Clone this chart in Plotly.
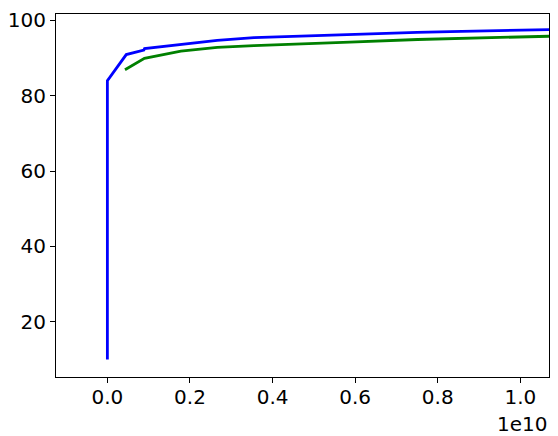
import plotly.graph_objs as go

# ---- data (x in raw units, shown as x 1e10)
blue_x = [0, 0, 0.0457e10, 0.0883e10, 0.0900e10, 0.178e10, 0.266e10, 0.355e10,
          0.443e10, 0.54e10, 0.62e10, 0.75e10, 0.83e10, 0.90e10, 1.0e10, 1.1e10]
blue_y = [10.0, 84.0, 90.9, 92.1, 92.5, 93.65, 94.7, 95.4,
          95.7, 96.2, 96.5, 96.8, 97.0, 97.2, 97.4, 97.6]

green_x = [0.0426e10, 0.0898e10, 0.178e10, 0.266e10, 0.355e10, 0.443e10,
           0.587e10, 0.751e10, 0.90e10, 1.0e10, 1.1e10]
green_y = [86.9, 89.9, 91.8, 92.8, 93.3, 93.6,
           94.2, 94.9, 95.3, 95.6, 95.85]

x_ticks = [0, 0.2e10, 0.4e10, 0.6e10, 0.8e10, 1.0e10]
x_tick_text = ["0.0", "0.2", "0.4", "0.6", "0.8", "1.0"]
y_ticks = [20, 40, 60, 80, 100]

font = dict(family="DejaVu Sans", size=20, color="black")

data = [
    go.Scatter(x=blue_x, y=blue_y, mode="lines",
               line=dict(color="#0000ff", width=2.8)),
    go.Scatter(x=green_x, y=green_y, mode="lines",
               line=dict(color="#008000", width=2.8)),
]

axis_style = dict(
    showline=True, linecolor="black", linewidth=1.1, mirror=True,
    ticks="outside", ticklen=5, tickwidth=1.1, tickcolor="black",
    showgrid=False, zeroline=False, tickfont=font,
)

layout = go.Layout(
    width=558, height=436,
    margin=dict(l=54, r=8, t=8, b=59),
    paper_bgcolor="white", plot_bgcolor="white",
    showlegend=False,
    xaxis=dict(range=[-0.1244e10, 1.0693e10], tickvals=x_ticks,
               ticktext=x_tick_text, ticklabelstandoff=-3, **axis_style),
    yaxis=dict(range=[5.38, 101.67], tickvals=y_ticks, **axis_style),
    annotations=[dict(text="1e10", xref="paper", yref="paper", x=1.0, y=0,
                      xanchor="right", yanchor="top", yshift=-33,
                      showarrow=False, font=font)],
)

fig = go.Figure(data=data, layout=layout)
# page body has an 8px default margin; drop it so the figure sits at 0,0
fig.write_html("out.html", config={"displayModeBar": False},
               post_script="document.body.style.margin='0';")
